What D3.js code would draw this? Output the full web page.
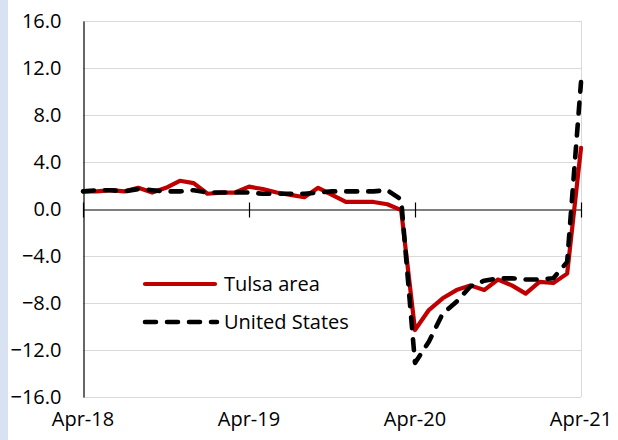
<!DOCTYPE html>
<html>
<head>
<meta charset="utf-8">
<script src="https://cdn.jsdelivr.net/npm/d3@7"></script>
<style>
  html, body { margin: 0; padding: 0; background: #fff; }
  svg { display: block; }
  text { font-family: 'Open Sans', sans-serif; fill: #000; }
</style>
</head>
<body>
<div id="chart"></div>
<script>
// Monthly, Apr-18 .. Apr-21 (index 0..36)
const monthCount = 37;
const tulsa = [
  1.5, 1.5, 1.6, 1.5, 1.8, 1.4, 1.8, 2.4, 2.2, 1.3, 1.4, 1.4,
  1.9, 1.7, 1.4, 1.2, 1.0, 1.8, 1.2, 0.6, 0.6, 0.6, 0.4, -0.1,
  -10.3, -8.6, -7.6, -6.9, -6.5, -6.9, -6.0, -6.5, -7.2, -6.2, -6.3, -5.5,
  5.2
];
const unitedStates = [
  1.5, 1.6, 1.6, 1.5, 1.7, 1.6, 1.5, 1.5, 1.6, 1.4, 1.4, 1.4,
  1.4, 1.3, 1.3, 1.3, 1.3, 1.4, 1.5, 1.5, 1.5, 1.5, 1.6, 0.8,
  -13.1, -11.3, -8.9, -7.9, -6.6, -6.1, -5.9, -5.9, -6.0, -6.0, -5.9, -4.5,
  10.8
];
const yTicks = [-16, -12, -8, -4, 0, 4, 8, 12, 16];
const xTickIdx = [0, 12, 24, 36];
const xTickLabels = ['Apr-18', 'Apr-19', 'Apr-20', 'Apr-21'];
const seriesNames = ['Tulsa area', 'United States'];

const width = 618;
const height = 440;
const margin = { top: 21, right: 37, bottom: 43, left: 83 };

const svg = d3.select('#chart')
  .append('svg')
  .attr('width', width)
  .attr('height', height);

// light blue strip at the left edge
svg.append('rect')
  .attr('x', 0).attr('y', 0)
  .attr('width', 8).attr('height', height)
  .attr('fill', '#d9e2f3');

const x = d3.scaleLinear()
  .domain([0, monthCount - 1])
  .range([margin.left, width - margin.right]);

const y = d3.scaleLinear()
  .domain([-16, 16])
  .range([height - margin.bottom, margin.top]);

// gridlines
svg.append('g')
  .selectAll('line')
  .data(yTicks.filter((d) => d !== 0))
  .enter()
  .append('line')
  .attr('x1', margin.left)
  .attr('x2', width - margin.right)
  .attr('y1', (d) => y(d) + 0.5)
  .attr('y2', (d) => y(d) + 0.5)
  .attr('stroke', '#d9d9d9')
  .attr('stroke-width', 1);

// right border of plot area
svg.append('line')
  .attr('x1', width - margin.right + 0.5)
  .attr('x2', width - margin.right + 0.5)
  .attr('y1', margin.top)
  .attr('y2', height - margin.bottom)
  .attr('stroke', '#d9d9d9');

// y axis
const yAxis = svg.append('g')
  .attr('transform', `translate(${margin.left + 0.5},0)`)
  .call(d3.axisLeft(y).tickValues(yTicks).tickSize(0).tickPadding(22)
    .tickFormat(d3.format('.1f')));
yAxis.select('.domain').attr('stroke', '#000').attr('stroke-width', 1.2);
yAxis.selectAll('text')
  .style('font-family', "'Open Sans', sans-serif")
  .style('font-size', '20px')
  .attr('fill', '#000');

// x axis on zero line
const xAxis = svg.append('g')
  .attr('transform', `translate(0,${y(0) + 0.5})`)
  .call(d3.axisBottom(x).tickValues(xTickIdx).tickSize(0).tickFormat(''));
xAxis.select('.domain').attr('stroke', '#000').attr('stroke-width', 1.2);
xAxis.selectAll('.tick line')
  .attr('y1', -7)
  .attr('y2', 8)
  .attr('stroke', '#000')
  .attr('stroke-width', 1.2);

// x labels at bottom
svg.append('g')
  .selectAll('text')
  .data(xTickIdx)
  .enter()
  .append('text')
  .attr('x', (d) => x(d))
  .attr('y', 426)
  .attr('text-anchor', 'middle')
  .style('font-size', '20px')
  .text((d, i) => xTickLabels[i]);

const line = d3.line()
  .x((d, i) => x(i))
  .y((d) => y(d))
  .curve(d3.curveLinear);

svg.append('path')
  .datum(tulsa)
  .attr('d', line)
  .attr('fill', 'none')
  .attr('stroke', '#c00000')
  .attr('stroke-width', 4.2)
  .attr('stroke-linejoin', 'round')
  .attr('stroke-linecap', 'round');

svg.append('path')
  .datum(unitedStates)
  .attr('d', line)
  .attr('fill', 'none')
  .attr('stroke', '#000')
  .attr('stroke-width', 4.6)
  .attr('stroke-dasharray', '11,11')
  .attr('stroke-linejoin', 'round')
  .attr('stroke-linecap', 'round');

// legend
const legend = svg.append('g');
const legendY = [284, 322];
legend.append('line')
  .attr('x1', 145).attr('x2', 215)
  .attr('y1', legendY[0]).attr('y2', legendY[0])
  .attr('stroke', '#c00000')
  .attr('stroke-width', 4.2)
  .attr('stroke-linecap', 'round');
legend.append('line')
  .attr('x1', 145).attr('x2', 217)
  .attr('y1', legendY[1]).attr('y2', legendY[1])
  .attr('stroke', '#000')
  .attr('stroke-width', 4.6)
  .attr('stroke-dasharray', '11,11')
  .attr('stroke-linecap', 'round');
legend.selectAll('text')
  .data(seriesNames)
  .enter()
  .append('text')
  .attr('x', 224)
  .attr('y', (d, i) => legendY[i] + 7)
  .style('font-size', '20px')
  .text((d) => d);
</script>
</body>
</html>
